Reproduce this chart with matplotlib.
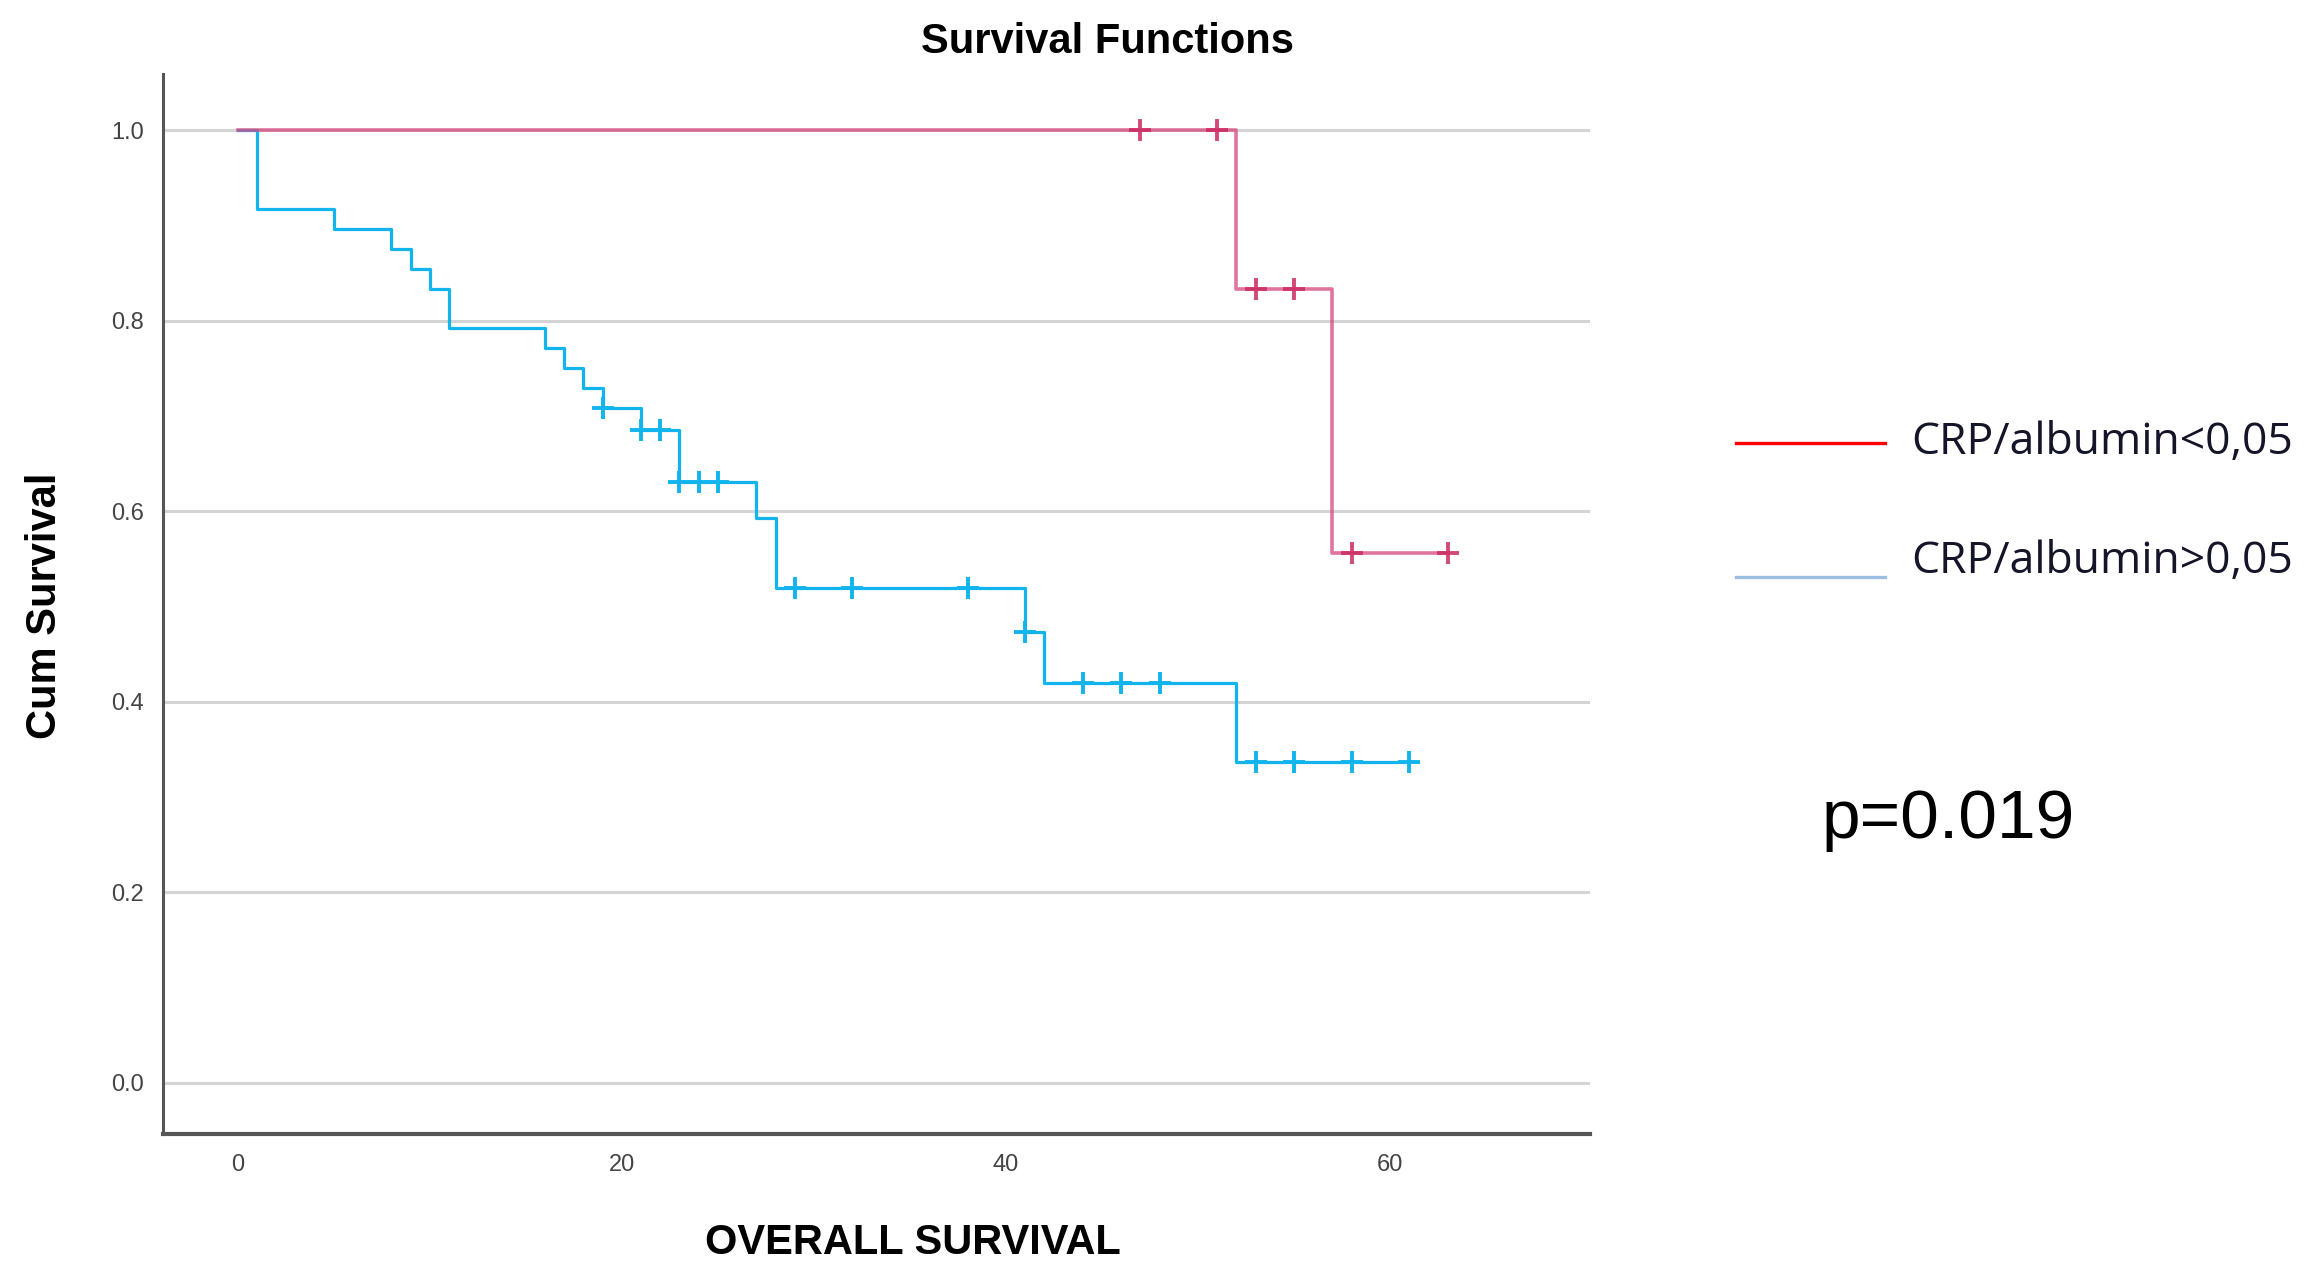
import numpy as np
import matplotlib
matplotlib.use("Agg")
import matplotlib.pyplot as plt

# step values (time, cumulative survival)
blue_times = [0, 1, 5, 8, 9, 10, 11, 16, 17, 18, 19, 21, 23, 27, 28, 41, 42, 52]
blue_surv = [1.0, 0.917, 0.896, 0.875, 0.854, 0.833, 0.792, 0.771, 0.750, 0.729,
             0.708, 0.685, 0.631, 0.593, 0.520, 0.473, 0.420, 0.337]
blue_end = 61
blue_cens = [19, 21, 22, 23, 24, 25, 29, 32, 38, 41, 44, 46, 48, 53, 55, 58, 61]

pink_times = [0, 52, 57]
pink_surv = [1.0, 0.833, 0.556]
pink_end = 63
pink_cens = [47, 51, 53, 55, 58, 63]

x_ticks = [0, 20, 40, 60]
y_ticks = [0.0, 0.2, 0.4, 0.6, 0.8, 1.0]
labels = ["CRP/albumin<0,05", "CRP/albumin>0,05"]


def level_at(times, surv, t):
    i = np.searchsorted(times, t, side="right") - 1
    return surv[i]


fig = plt.figure(figsize=(23.18, 12.76), dpi=100)
ax = fig.add_axes([0.0703, 0.111, 0.6155, 0.831])

for y in y_ticks:
    ax.axhline(y, color="#d4d4d4", lw=2.2, zorder=0)

blue = "#12b4ee"
pink = "#d8467c"

bx = blue_times + [blue_end]
by = blue_surv + [blue_surv[-1]]
ax.step(bx, by, where="post", color=blue, lw=2.3, zorder=2)
ax.plot(blue_cens, [level_at(blue_times, blue_surv, t) for t in blue_cens],
        ls="none", marker="+", ms=16, mew=2.8, color=blue, zorder=3)

px = pink_times + [pink_end]
py = pink_surv + [pink_surv[-1]]
ax.step(px, py, where="post", color=pink, lw=2.6, alpha=0.75, zorder=4)
ax.plot(pink_cens, [level_at(pink_times, pink_surv, t) for t in pink_cens],
        ls="none", marker="+", ms=16, mew=2.8, color="#cc2a62", alpha=0.85, zorder=5)

ax.set_xlim(-3.9, 70.4)
ax.set_ylim(-0.054, 1.059)
ax.set_xticks(x_ticks)
ax.set_yticks(y_ticks)
ax.set_yticklabels([f"{v:.1f}" for v in y_ticks])
ax.tick_params(length=0, labelsize=17, labelcolor="#444444", pad=14)
for lab in ax.get_xticklabels() + ax.get_yticklabels():
    lab.set_family("Liberation Sans")

for s in ["top", "right"]:
    ax.spines[s].set_visible(False)
ax.spines["left"].set_color("#555555")
ax.spines["left"].set_linewidth(2.2)
ax.spines["bottom"].set_color("#555555")
ax.spines["bottom"].set_linewidth(3.0)

fig.text(0.4776, 0.967, "Survival Functions", ha="center", va="center",
         fontsize=30, fontweight="bold", family="Liberation Sans")
fig.text(0.394, 0.026, "OVERALL SURVIVAL", ha="center", va="center",
         fontsize=30, fontweight="bold", family="Liberation Sans")
fig.text(0.0195, 0.525, "Cum Survival", ha="center", va="center", rotation=90,
         fontsize=30, fontweight="bold", family="Liberation Sans")

# legend drawn by hand to the right of the plot
leg_colors = ["#ff0000", "#9cc0e4"]
leg_y = [0.653, 0.548]
text_y = [0.653, 0.560]
for lab, c, ly, ty in zip(labels, leg_colors, leg_y, text_y):
    fig.add_artist(plt.Line2D([0.749, 0.813], [ly, ly], color=c, lw=2.4,
                              transform=fig.transFigure))
    fig.text(0.8245, ty, lab, ha="left", va="center", fontsize=32,
             family="Open Sans", color="#15152a")

fig.text(0.786, 0.357, "p=0.019", ha="left", va="center", fontsize=50,
         family="Liberation Sans", color="black")

fig.savefig("out.png", dpi=100, facecolor="white")
